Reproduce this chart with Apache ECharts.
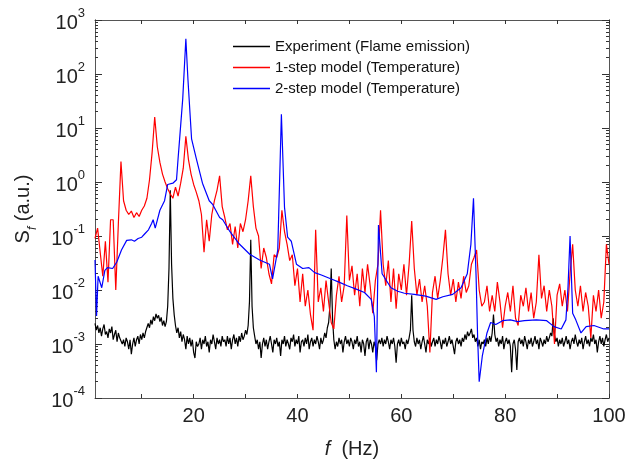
<!DOCTYPE html>
<html>
<head>
<meta charset="utf-8">
<script src="https://cdn.jsdelivr.net/npm/echarts@6.0.0/dist/echarts.min.js"></script>
<style>
  html, body { margin: 0; padding: 0; background: #fff; }
  #chart { width: 643px; height: 464px; }
</style>
</head>
<body>
<div id="chart"></div>
<script>
// spectra
const fStart = 1;
const blackStep = 0.25; // Hz, experiment grid
const redStep = 0.5;    // Hz, 1-step model grid

// Experiment (Flame emission), 1 .. 100 Hz every 0.25 Hz
const blackVals = [
  2.4e-3,1.8e-3,2.2e-3,1.6e-3,2.0e-3,1.4e-3,1.9e-3,2.3e-3,1.5e-3,1.7e-3,1.3e-3,1.9e-3,1.6e-3,2.1e-3,1.2e-3,1.5e-3,1.8e-3,1.1e-3,1.6e-3,1.3e-3,
  1.4e-3,1.0e-3,1.2e-3,0.9e-3,1.3e-3,1.1e-3,0.8e-3,1.2e-3,0.65e-3,1.0e-3,1.3e-3,0.9e-3,1.2e-3,1.4e-3,1.0e-3,1.5e-3,1.2e-3,1.6e-3,1.3e-3,1.7e-3,
  1.8e-3,2.4e-3,2.0e-3,2.8e-3,2.3e-3,3.2e-3,2.7e-3,3.6e-3,3.0e-3,3.4e-3,2.6e-3,3.1e-3,2.2e-3,2.7e-3,2.1e-3,2.6e-3,5.0e-3,2.5e-2,7.0e-1,3.0e-2,
  7.0e-3,3.5e-3,2.2e-3,1.6e-3,2.0e-3,1.3e-3,1.7e-3,1.1e-3,1.5e-3,1.2e-3,0.8e-3,1.4e-3,1.0e-3,1.3e-3,0.9e-3,1.2e-3,0.7e-3,0.55e-3,1.1e-3,0.9e-3,
  1.0e-3,1.3e-3,0.8e-3,1.2e-3,1.0e-3,1.4e-3,0.9e-3,1.1e-3,0.7e-3,1.2e-3,1.0e-3,1.5e-3,1.1e-3,0.8e-3,1.3e-3,1.0e-3,1.2e-3,0.9e-3,1.4e-3,1.1e-3,
  1.2e-3,0.9e-3,1.4e-3,1.0e-3,1.3e-3,0.8e-3,1.2e-3,1.5e-3,1.0e-3,1.3e-3,0.9e-3,1.4e-3,1.1e-3,1.6e-3,1.2e-3,1.4e-3,1.8e-3,1.5e-3,2.2e-3,6.0e-3,
  8.5e-2,5.0e-3,2.0e-3,1.4e-3,1.0e-3,1.2e-3,0.8e-3,1.1e-3,0.55e-3,1.0e-3,1.3e-3,0.9e-3,1.2e-3,0.8e-3,1.1e-3,1.4e-3,1.0e-3,0.7e-3,1.2e-3,1.0e-3,
  1.3e-3,0.9e-3,1.1e-3,0.6e-3,1.2e-3,1.0e-3,1.4e-3,0.9e-3,1.2e-3,1.0e-3,0.8e-3,1.3e-3,1.1e-3,1.5e-3,0.9e-3,1.2e-3,1.0e-3,1.4e-3,0.7e-3,1.1e-3,
  1.2e-3,0.9e-3,1.3e-3,1.0e-3,1.5e-3,0.8e-3,1.1e-3,1.3e-3,0.9e-3,1.2e-3,1.0e-3,1.4e-3,1.1e-3,0.8e-3,1.3e-3,1.0e-3,1.2e-3,1.6e-3,1.3e-3,2.0e-3,
  2.5e-3,5.0e-3,2.5e-2,3.0e-3,1.2e-3,0.8e-3,1.1e-3,0.9e-3,1.3e-3,1.0e-3,1.2e-3,0.7e-3,1.1e-3,1.4e-3,1.0e-3,1.2e-3,0.9e-3,1.3e-3,1.1e-3,0.8e-3,
  1.2e-3,1.0e-3,1.4e-3,0.9e-3,1.1e-3,0.7e-3,1.2e-3,1.0e-3,0.6e-3,1.1e-3,1.3e-3,0.8e-3,1.2e-3,1.0e-3,0.7e-3,1.1e-3,0.9e-3,0.5e-3,1.0e-3,1.2e-3,
  1.0e-3,1.3e-3,0.9e-3,1.2e-3,1.0e-3,1.4e-3,1.1e-3,0.8e-3,1.2e-3,1.0e-3,1.3e-3,0.9e-3,0.45e-3,1.0e-3,1.2e-3,0.9e-3,1.3e-3,1.0e-3,1.1e-3,0.8e-3,
  1.2e-3,1.0e-3,1.3e-3,1.8e-3,8.0e-3,1.8e-3,1.1e-3,0.9e-3,1.3e-3,1.0e-3,1.2e-3,0.8e-3,1.1e-3,1.4e-3,1.0e-3,0.7e-3,1.2e-3,1.0e-3,1.3e-3,0.9e-3,
  1.1e-3,1.3e-3,0.9e-3,1.2e-3,1.0e-3,1.4e-3,1.1e-3,0.8e-3,1.2e-3,1.0e-3,1.3e-3,0.9e-3,1.1e-3,1.4e-3,1.0e-3,1.2e-3,0.9e-3,0.65e-3,1.1e-3,1.3e-3,
  1.0e-3,1.2e-3,0.9e-3,1.3e-3,1.1e-3,1.5e-3,1.2e-3,1.7e-3,1.4e-3,1.6e-3,1.9e-3,1.3e-3,1.5e-3,1.1e-3,1.3e-3,0.9e-3,1.2e-3,0.8e-3,1.1e-3,1.0e-3,
  1.2e-3,0.9e-3,1.3e-3,1.0e-3,1.4e-3,1.1e-3,1.6e-3,3.5e-3,1.5e-3,1.1e-3,1.3e-3,0.9e-3,1.2e-3,1.0e-3,1.4e-3,0.8e-3,1.1e-3,1.3e-3,1.0e-3,1.2e-3,
  0.9e-3,0.3e-3,1.0e-3,1.2e-3,0.8e-3,0.33e-3,1.1e-3,1.3e-3,1.0e-3,1.2e-3,0.9e-3,1.4e-3,1.1e-3,0.8e-3,1.2e-3,1.0e-3,1.3e-3,0.9e-3,1.1e-3,1.4e-3,
  1.0e-3,1.2e-3,0.8e-3,1.3e-3,1.1e-3,0.9e-3,1.2e-3,1.0e-3,1.4e-3,1.1e-3,1.3e-3,1.6e-3,1.4e-3,3.0e-3,1.5e-3,1.1e-3,1.3e-3,0.9e-3,1.2e-3,1.0e-3,
  1.3e-3,0.9e-3,1.1e-3,1.4e-3,1.0e-3,1.2e-3,0.8e-3,1.1e-3,1.3e-3,1.0e-3,1.5e-3,1.1e-3,0.9e-3,1.2e-3,1.0e-3,1.3e-3,0.8e-3,1.1e-3,1.4e-3,1.0e-3,
  1.2e-3,0.9e-3,1.3e-3,1.1e-3,1.5e-3,1.0e-3,1.2e-3,0.7e-3,1.1e-3,1.4e-3,1.0e-3,1.3e-3,0.9e-3,1.2e-3,1.5e-3,1.1e-3,1.3e-3
];

// 1-step model (Temperature), 1 .. 100 Hz every 0.5 Hz
const redVals = [
  0.09,0.14,0.05,0.018,0.08,0.014,0.2,0.2,0.01,0.17,
  2.4,0.45,0.3,0.25,0.29,0.22,0.27,0.23,0.3,0.36,
  0.5,1.1,3.5,16,4.5,2.3,1.4,1.0,0.75,0.6,
  0.5,0.8,0.55,0.95,1.8,7,2.6,1.4,0.9,0.65,
  0.45,0.25,0.05,0.2,0.08,0.25,0.45,0.7,1.3,0.35,
  0.22,0.13,0.17,0.07,0.15,0.06,0.17,0.12,0.2,0.45,
  1.3,0.35,0.14,0.1,0.025,0.06,0.04,0.02,0.013,0.045,
  0.04,0.06,0.3,0.12,0.07,0.035,0.045,0.012,0.025,0.006,
  0.02,0.005,0.01,0.0035,0.0018,0.13,0.006,0.011,0.004,0.015,
  0.006,0.0025,0.0019,0.008,0.018,0.006,0.012,0.24,0.015,0.028,
  0.008,0.02,0.005,0.025,0.009,0.03,0.012,0.0037,0.015,0.03,
  0.3,0.03,0.012,0.035,0.006,0.025,0.0045,0.02,0.01,0.03,
  0.008,0.03,0.19,0.025,0.008,0.016,0.006,0.012,0.005,0.0007,
  0.009,0.018,0.007,0.015,0.04,0.13,0.02,0.008,0.016,0.006,
  0.014,0.007,0.018,0.009,0.012,0.03,0.04,0.055,0.01,0.005,
  0.006,0.012,0.004,0.008,0.004,0.014,0.006,0.002,0.005,0.009,
  0.004,0.012,0.003,0.0022,0.008,0.005,0.011,0.004,0.009,0.003,
  0.006,0.045,0.007,0.012,0.004,0.01,0.005,0.001,0.008,0.013,
  0.005,0.01,0.004,0.02,0.07,0.01,0.005,0.012,0.004,0.009,
  0.005,0.0013,0.008,0.004,0.01,0.003,0.006,0.07,0.03
];

// 2-step model (Temperature), smooth so sampled at its turning points
const blueFreq = [
  1.0,1.3,1.6,2.3,2.9,3.4,4.4,5.2,6.1,7.1,
  8.0,8.6,9.3,10.0,10.6,11.3,11.9,12.2,12.6,13.5,
  14.4,15.0,16.0,16.7,17.0,17.3,17.9,18.5,18.9,19.6,
  20.5,21.7,23.0,23.7,25.0,25.6,27.0,28.8,30.8,32.7,
  34.6,35.2,36.2,36.9,37.5,38.1,38.8,39.8,41.0,42.2,
  43.3,44.6,46.5,48.0,49.6,51.2,52.9,54.2,54.8,55.2,
  55.6,56.3,58.0,59.3,60.6,62.5,64.7,66.7,68.0,69.9,
  71.5,72.7,73.4,73.9,74.4,74.7,75.0,75.6,76.5,77.2,
  78.2,79.5,81.0,82.4,83.7,86.0,88.0,89.4,90.8,91.7,
  92.1,92.5,93.0,93.6,94.6,95.6,97.1,99.0,100.0
];
const blueVals = [
  0.036,0.0033,0.018,0.011,0.023,0.026,0.025,0.033,0.055,0.083,
  0.085,0.08,0.09,0.095,0.11,0.13,0.17,0.2,0.14,0.3,
  0.45,0.9,0.95,1.1,2.7,6.3,35,450,80,6.3,
  2.75,0.95,0.45,0.38,0.22,0.2,0.12,0.071,0.046,0.036,
  0.03,0.016,0.055,18,0.34,0.095,0.08,0.03,0.025,0.026,
  0.021,0.019,0.016,0.014,0.012,0.0105,0.009,0.0067,0.0032,0.0003,
  0.16,0.02,0.011,0.0095,0.0087,0.0083,0.0077,0.0067,0.0075,0.0083,
  0.011,0.02,0.07,0.5,0.018,0.0013,0.0002,0.0006,0.0016,0.0025,
  0.0023,0.0027,0.0028,0.0026,0.0027,0.0028,0.0027,0.0021,0.0019,0.0028,
  0.011,0.1,0.0037,0.0028,0.0016,0.0021,0.0022,0.0019,0.0019
];

const seriesNames = [
  'Experiment (Flame emission)',
  '1-step model (Temperature)',
  '2-step model (Temperature)'
];
const seriesColors = ['#000000', '#ff0000', '#0000ff'];

// axis ticks
const xTicks = [10, 20, 30, 40, 50, 60, 70, 80, 90, 100];
const xLabels = [20, 40, 60, 80, 100];
const yMajor = [1e-4, 1e-3, 1e-2, 1e-1, 1e0, 1e1, 1e2, 1e3];
let yMinor = [];
for (let e = -4; e < 3; e++) {
  for (let m = 2; m <= 9; m++) yMinor.push(m * Math.pow(10, e));
}

const blackData = blackVals.map((v, i) => [fStart + i * blackStep, v]);
const redData = redVals.map((v, i) => [fStart + i * redStep, v]);
const blueData = blueVals.map((v, i) => [blueFreq[i], v]);

const FONT = "'Liberation Sans', Arial, sans-serif";
const AXIS_COLOR = '#555';
const TICK_COLOR = '#333';

function yAxisOf(pos, ticks, len, withLabel) {
  return {
    type: 'log',
    logBase: 10,
    min: 1e-4,
    max: 1e3,
    position: pos,
    axisLine: { show: true, lineStyle: { color: AXIS_COLOR, width: 1 } },
    axisTick: { show: true, inside: true, length: len, customValues: ticks, lineStyle: { color: TICK_COLOR } },
    axisLabel: withLabel ? {
      show: true,
      margin: 10,
      customValues: yMajor,
      formatter: function (val) {
        const e = Math.round(Math.log10(val));
        return '{b|10}{s|' + e + '}';
      },
      rich: {
        b: { fontFamily: FONT, fontSize: 20, color: '#222', lineHeight: 26, verticalAlign: 'bottom' },
        s: { fontFamily: FONT, fontSize: 13, color: '#222', lineHeight: 13, verticalAlign: 'top' }
      }
    } : { show: false },
    splitLine: { show: false },
    minorTick: { show: false }
  };
}

const chart = echarts.init(document.getElementById('chart'), null, { renderer: 'canvas' });

chart.setOption({
  animation: false,
  backgroundColor: '#fff',
  grid: { left: 95, right: 34, top: 20, bottom: 61, containLabel: false },
  legend: {
    data: seriesNames,
    orient: 'vertical',
    left: 228,
    top: 33,
    icon: 'rect',
    itemWidth: 37,
    itemHeight: 1.5,
    itemGap: 4,
    textStyle: { fontFamily: FONT, fontSize: 15, color: '#111', lineHeight: 17 }
  },
  xAxis: [
    {
      type: 'value',
      min: 1,
      max: 100,
      position: 'bottom',
      name: '{i|f}{n|  (Hz)}',
      nameLocation: 'middle',
      nameGap: 41,
      nameTextStyle: {
        rich: {
          i: { fontFamily: FONT, fontSize: 20, fontStyle: 'italic', color: '#222' },
          n: { fontFamily: FONT, fontSize: 20, color: '#222' }
        }
      },
      axisLine: { show: true, lineStyle: { color: AXIS_COLOR, width: 1 } },
      axisTick: { show: true, inside: true, length: 4, customValues: xTicks, lineStyle: { color: TICK_COLOR } },
      axisLabel: { show: true, margin: 8, customValues: xLabels, fontFamily: FONT, fontSize: 20, color: '#222' },
      splitLine: { show: false }
    },
    {
      type: 'value',
      min: 1,
      max: 100,
      position: 'top',
      axisLine: { show: true, lineStyle: { color: AXIS_COLOR, width: 1 } },
      axisTick: { show: true, inside: true, length: 4, customValues: xTicks, lineStyle: { color: TICK_COLOR } },
      axisLabel: { show: false },
      splitLine: { show: false }
    }
  ],
  yAxis: [
    Object.assign(yAxisOf('left', yMajor, 7, true), {
      name: '{s|S}{f|f}{n| (a.u.)}',
      nameLocation: 'middle',
      nameGap: 56,
      nameRotate: 90,
      nameTextStyle: {
        rich: {
          s: { fontFamily: FONT, fontSize: 20, color: '#222', lineHeight: 26, verticalAlign: 'top' },
          f: { fontFamily: FONT, fontSize: 12, fontStyle: 'italic', color: '#222', lineHeight: 12, verticalAlign: 'bottom' },
          n: { fontFamily: FONT, fontSize: 20, color: '#222', lineHeight: 26, verticalAlign: 'top' }
        }
      }
    }),
    yAxisOf('left', yMinor, 3, false),
    yAxisOf('right', yMajor, 7, false),
    yAxisOf('right', yMinor, 3, false)
  ],
  series: [
    {
      name: seriesNames[0],
      type: 'line',
      data: blackData,
      symbol: 'none',
      lineStyle: { color: seriesColors[0], width: 1.2 },
      itemStyle: { color: seriesColors[0] }
    },
    {
      name: seriesNames[1],
      type: 'line',
      data: redData,
      symbol: 'none',
      lineStyle: { color: seriesColors[1], width: 1.2 },
      itemStyle: { color: seriesColors[1] }
    },
    {
      name: seriesNames[2],
      type: 'line',
      data: blueData,
      symbol: 'none',
      lineStyle: { color: seriesColors[2], width: 1.2 },
      itemStyle: { color: seriesColors[2] }
    }
  ]
});
</script>
</body>
</html>
